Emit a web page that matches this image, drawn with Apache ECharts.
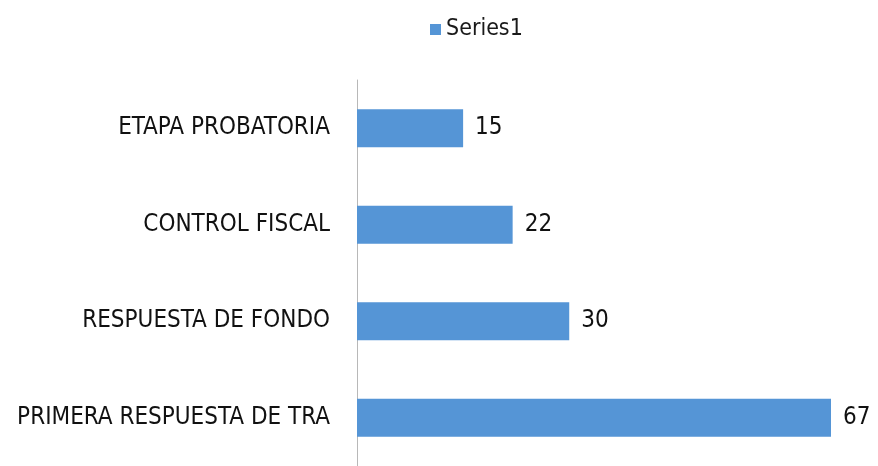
<!DOCTYPE html>
<html>
<head>
<meta charset="utf-8">
<script src="https://cdn.jsdelivr.net/npm/echarts@6/dist/echarts.min.js"></script>
<style>
  html, body { margin: 0; padding: 0; background: #fff; }
  #chart { width: 878px; height: 466px; }
</style>
</head>
<body>
<div id="chart"></div>
<script>
// categories listed bottom to top (category axis on y starts at the bottom)
const categories = ["PRIMERA RESPUESTA DE TRA", "RESPUESTA DE FONDO", "CONTROL FISCAL", "ETAPA PROBATORIA"];
const seriesName = "Series1";
const values = [67, 30, 22, 15];

const chart = echarts.init(document.getElementById("chart"));

const textFont = "'Liberation Sans Narrow', 'DejaVu Sans Condensed', sans-serif";

chart.setOption({
  animation: false,
  legend: {
    top: 13,
    left: 425,
    itemWidth: 11,
    itemHeight: 11,
    icon: "rect",
    itemGap: 8,
    textStyle: { fontFamily: textFont, fontSize: 23, color: "#1a1a1a" },
    data: [seriesName],
  },
  grid: {
    left: 357,
    right: 47,
    top: 80,
    bottom: -1,
    containLabel: false,
  },
  xAxis: {
    type: "value",
    min: 0,
    max: 67,
    show: false,
  },
  yAxis: {
    type: "category",
    data: categories,
    axisLine: { lineStyle: { color: "#b8b8b8", width: 1 } },
    axisTick: { show: false },
    axisLabel: {
      margin: 27,
      fontFamily: textFont,
      fontSize: 24,
      color: "#111",
    },
  },
  series: [
    {
      name: seriesName,
      type: "bar",
      data: values,
      barWidth: 38,
      itemStyle: { color: "#5595d6" },
      label: {
        show: true,
        position: "right",
        distance: 12,
        fontFamily: textFont,
        fontSize: 24,
        color: "#111",
      },
    },
  ],
});
</script>
</body>
</html>
